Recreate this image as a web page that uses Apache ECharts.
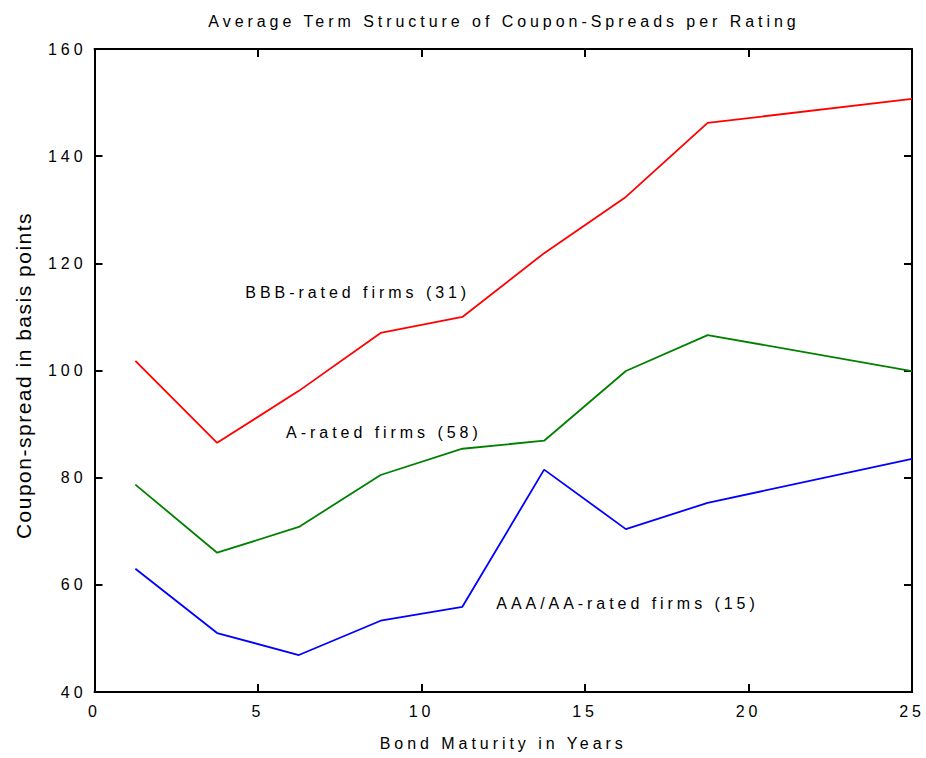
<!DOCTYPE html>
<html>
<head>
<meta charset="utf-8">
<script src="https://cdn.jsdelivr.net/npm/echarts@6/dist/echarts.min.js"></script>
<style>
html,body{margin:0;padding:0;background:#fff}
#chart{width:926px;height:758px}
#chart text{letter-spacing:3.95px}
</style>
</head>
<body>
<div id="chart"></div>
<script>
// Data
const maturities = [1.25, 3.75, 6.25, 8.75, 11.25, 13.75, 16.25, 18.75, 25];
const bbbSpreads = [101.8, 86.5, 96.2, 107.0, 110.0, 121.9, 132.4, 146.2, 150.7];
const aSpreads   = [78.7, 66.0, 70.8, 80.5, 85.4, 86.9, 99.9, 106.6, 99.9];
const aaaSpreads = [63.0, 51.0, 46.9, 53.3, 55.9, 81.5, 70.4, 75.3, 83.5];
const seriesNames = ['BBB-rated firms (31)', 'A-rated firms (58)', 'AAA/AA-rated firms (15)'];
// label anchor positions in data units (years, basis points)
const labelX = [8.05, 8.85, 16.3];
const labelY = [114.6, 88.5, 56.6];

const titleText = 'Average Term Structure of Coupon-Spreads per Rating';
const xName = 'Bond Maturity in Years';
const yName = 'Coupon-spread in basis points';

const seriesValues = [bbbSpreads, aSpreads, aaaSpreads];
const colors = ['#ff0000', '#008000', '#0000ff'];

const chart = echarts.init(document.getElementById('chart'), null, {renderer: 'svg'});

const font = 'Liberation Sans, Arial, sans-serif';

const axisCommon = {
  axisLine: {show: true, onZero: false, lineStyle: {color: '#000', width: 2}},
  axisTick: {show: true, inside: true, length: 8, lineStyle: {color: '#000', width: 2}},
  splitLine: {show: false}
};

const option = {
  animation: false,
  backgroundColor: '#fff',
  textStyle: {fontFamily: font},
  title: {
    text: titleText,
    left: 499,
    textAlign: 'center',
    top: 8,
    textStyle: {fontFamily: font, fontSize: 16, fontWeight: 'normal', color: '#000'}
  },
  grid: {left: 94.5, right: 14, top: 49, bottom: 66, containLabel: false},
  xAxis: [
    Object.assign({
      type: 'value', min: 0, max: 25, interval: 5, position: 'bottom',
      name: xName, nameLocation: 'middle', nameGap: 43,
      nameTextStyle: {fontFamily: font, fontSize: 16, color: '#000'},
      axisLabel: {fontFamily: font, fontSize: 16, color: '#000', margin: 11}
    }, axisCommon),
    Object.assign({
      type: 'value', min: 0, max: 25, interval: 5, position: 'top',
      axisLabel: {show: false}
    }, axisCommon)
  ],
  yAxis: [
    Object.assign({
      type: 'value', min: 40, max: 160, interval: 20, position: 'left',
      name: yName, nameLocation: 'middle', nameGap: 61, nameRotate: 90,
      nameTextStyle: {fontFamily: font, fontSize: 21, color: '#000', padding: [0, 10, 0, 0]},
      axisLabel: {fontFamily: font, fontSize: 16, color: '#000', margin: 8}
    }, axisCommon),
    Object.assign({
      type: 'value', min: 40, max: 160, interval: 20, position: 'right',
      axisLabel: {show: false}
    }, axisCommon)
  ],
  series: seriesValues.map((vals, i) => ({
    type: 'line',
    name: seriesNames[i],
    data: maturities.map((m, j) => [m, vals[j]]),
    showSymbol: false,
    symbol: 'none',
    silent: true,
    lineStyle: {color: colors[i], width: 1.8},
    markPoint: {
      silent: true,
      symbol: 'circle',
      symbolSize: 0,
      label: {
        show: true, position: 'inside', formatter: seriesNames[i],
        fontFamily: font, fontSize: 16, color: '#000'
      },
      data: [{coord: [labelX[i], labelY[i]]}]
    }
  }))
};

chart.setOption(option);

function fixYName() {
  document.querySelectorAll('#chart text').forEach(t => {
    if (t.textContent.indexOf('Coupon-spread') === 0) {
      t.style.letterSpacing = '1.5px';
    }
  });
}
fixYName();
chart.on('finished', fixYName);
</script>
</body>
</html>
